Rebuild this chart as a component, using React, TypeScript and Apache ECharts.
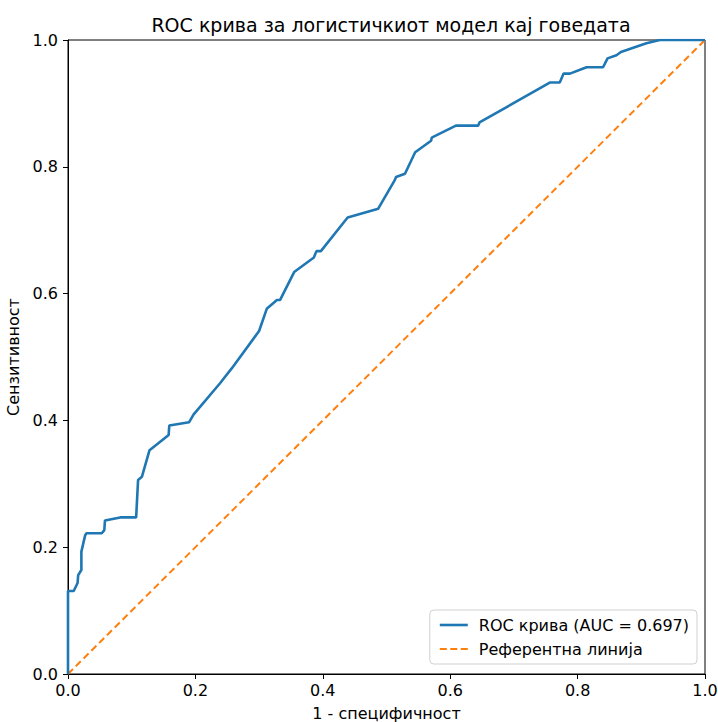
import React, { useEffect, useRef } from "react";
import * as echarts from "echarts";

const fpr = [0, 0, 0.009, 0.015, 0.016, 0.021, 0.021, 0.024, 0.027, 0.029, 0.053, 0.057, 0.058, 0.082, 0.107, 0.110, 0.116, 0.128, 0.158, 0.159, 0.190, 0.197, 0.239, 0.246, 0.257, 0.300, 0.312, 0.328, 0.333, 0.355, 0.386, 0.390, 0.397, 0.439, 0.487, 0.513, 0.515, 0.529, 0.545, 0.570, 0.571, 0.609, 0.644, 0.646, 0.757, 0.772, 0.778, 0.788, 0.814, 0.840, 0.847, 0.861, 0.868, 0.908, 0.929, 1.0];
const tpr = [0, 0.131, 0.131, 0.1435, 0.156, 0.164, 0.193, 0.206, 0.219, 0.222, 0.222, 0.227, 0.242, 0.247, 0.247, 0.306, 0.311, 0.353, 0.377, 0.392, 0.397, 0.409, 0.459, 0.468, 0.482, 0.541, 0.576, 0.590, 0.590, 0.634, 0.657, 0.667, 0.667, 0.720, 0.734, 0.779, 0.784, 0.789, 0.823, 0.841, 0.846, 0.865, 0.865, 0.870, 0.933, 0.933, 0.947, 0.947, 0.957, 0.957, 0.971, 0.976, 0.981, 0.995, 1.0, 1.0];
const refX = [0, 1];
const refY = [0, 1];
const auc = 0.697;
const titleText = "ROC крива за логистичкиот модел кај говедата";
const xName = "1 - специфичност";
const yName = "Сензитивност";
const rocName = `ROC крива (AUC = ${auc.toFixed(3)})`;
const refName = "Референтна линија";

export default function App() {
  const ref = useRef<HTMLDivElement>(null);
  useEffect(() => {
    if (!ref.current) return;
    const chart = echarts.init(ref.current, null, { renderer: "svg" });
    const font = "DejaVu Sans";
    chart.setOption({
      animation: false,
      textStyle: { fontFamily: font },
      title: {
        text: titleText,
        left: 386,
        textAlign: "center",
        top: 10,
        textStyle: { fontFamily: font, fontSize: 19, fontWeight: "normal", color: "#000" },
      },
      grid: {
        left: 68, right: 13, top: 40, bottom: 48,
        containLabel: false, outerBoundsMode: "none",
        show: true, borderColor: "#000", borderWidth: 1, backgroundColor: "transparent",
      },
      xAxis: {
        type: "value", min: 0, max: 1, interval: 0.2,
        name: xName, nameLocation: "middle", nameGap: 31,
        nameTextStyle: { fontFamily: font, fontSize: 16, color: "#000" },
        axisLine: { show: true, lineStyle: { color: "#000" } },
        axisTick: { show: true, length: 5, lineStyle: { color: "#000" } },
        axisLabel: { fontFamily: font, fontSize: 16, color: "#000", margin: 8, formatter: (v: number) => v.toFixed(1) },
        splitLine: { show: false },
      },
      yAxis: {
        type: "value", min: 0, max: 1, interval: 0.2,
        name: yName, nameLocation: "middle", nameGap: 42,
        nameTextStyle: { fontFamily: font, fontSize: 16, color: "#000" },
        axisLine: { show: true, lineStyle: { color: "#000" } },
        axisTick: { show: true, length: 5, lineStyle: { color: "#000" } },
        axisLabel: { fontFamily: font, fontSize: 16, color: "#000", margin: 10, formatter: (v: number) => v.toFixed(1) },
        splitLine: { show: false },
      },
      legend: {
        orient: "vertical",
        right: 21, bottom: 58,
        itemWidth: 28, itemHeight: 14, itemGap: 8,
        padding: [7, 8, 7, 10],
        borderColor: "#d0d0d0", borderWidth: 1, borderRadius: 4,
        backgroundColor: "rgba(255,255,255,0.8)",
        textStyle: { fontFamily: font, fontSize: 16, color: "#000", padding: [0, 0, 0, 6] },
        data: [
          { name: rocName, icon: "path://M0,0 L28,0 L28,2.6 L0,2.6 Z" },
          { name: refName, icon: "path://M0,0 h7 v2 h-7 z M10.5,0 h7 v2 h-7 z M21,0 h7 v2 h-7 z" },
        ],
      },
      series: [
        {
          name: rocName, type: "line", symbol: "none",
          data: fpr.map((x, i) => [x, tpr[i]]),
          lineStyle: { color: "#1f77b4", width: 2.6 },
          itemStyle: { color: "#1f77b4" },
          z: 3,
        },
        {
          name: refName, type: "line", symbol: "none",
          data: refX.map((x, i) => [x, refY[i]]),
          lineStyle: { color: "#ff7f0e", width: 2, type: [7, 4] },
          itemStyle: { color: "#ff7f0e" },
          z: 2,
        },
      ],
    });
    return () => chart.dispose();
  }, []);
  return <div ref={ref} style={{ width: 718, height: 722, position: "absolute", left: 0, top: 0 }} />;
}
